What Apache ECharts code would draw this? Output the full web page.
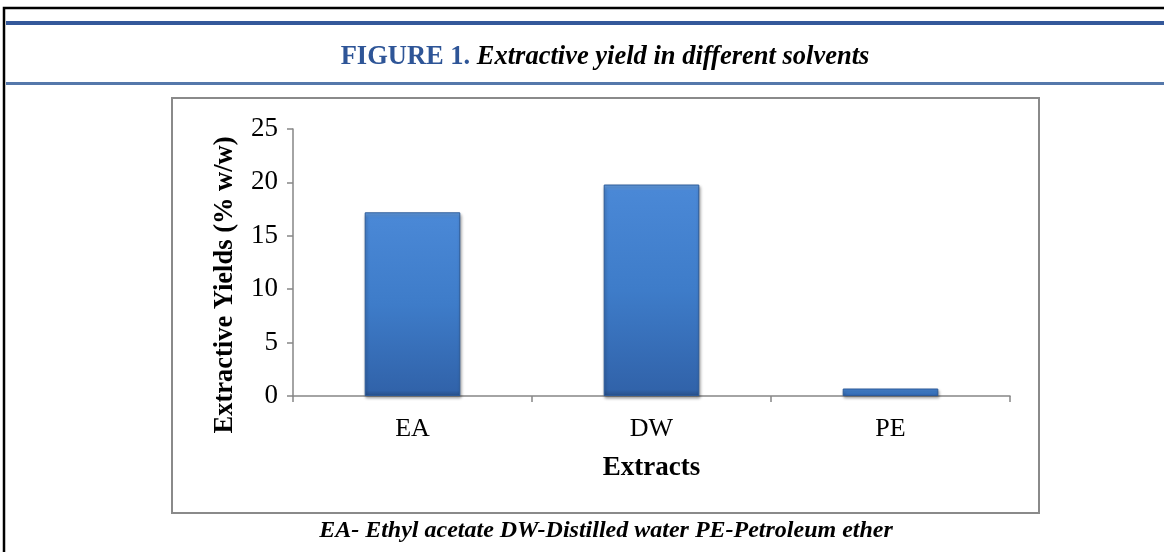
<!DOCTYPE html>
<html>
<head>
<meta charset="utf-8">
<script src="https://cdn.jsdelivr.net/npm/echarts@6/dist/echarts.min.js"></script>
<style>
html,body{margin:0;padding:0;background:#fff;}
#chart{width:1164px;height:552px;}
</style>
</head>
<body>
<div id="chart"></div>
<script>
const categories = ['EA', 'DW', 'PE'];
const yieldValues = [17.2, 19.8, 0.7];
const yTicks = [0, 5, 10, 15, 20, 25];
const titleLead = 'FIGURE 1.';
const titleRest = ' Extractive yield in different solvents';
const yName = 'Extractive Yields (% w/w)';
const xName = 'Extracts';
const footnote = 'EA- Ethyl acetate DW-Distilled water PE-Petroleum ether';

const serif = '"Liberation Serif", "Times New Roman", serif';
const chart = echarts.init(document.getElementById('chart'), null, {renderer: 'canvas'});

const option = {
  animation: false,
  backgroundColor: '#fff',
  graphic: [
    {type: 'rect', shape: {x: 4, y: 8, width: 1164, height: 560}, style: {fill: 'none', stroke: '#000', lineWidth: 2.5}, z: 10},
    {type: 'rect', shape: {x: 6, y: 21, width: 1160, height: 4}, style: {fill: '#34589a'}, z: 10},
    {type: 'rect', shape: {x: 6, y: 82, width: 1160, height: 3}, style: {fill: '#5578ab'}, z: 10},
    {type: 'rect', shape: {x: 172, y: 98, width: 867, height: 415}, style: {fill: 'none', stroke: '#8a8a8a', lineWidth: 2}, z: 1},
    {type: 'text', x: 605, y: 57, z: 10, style: {
      text: '{a|' + titleLead + '}{b|' + titleRest + '}',
      align: 'center', verticalAlign: 'middle',
      rich: {
        a: {fontFamily: serif, fontWeight: 'bold', fontSize: 26.5, fill: '#2e5597'},
        b: {fontFamily: serif, fontWeight: 'bold', fontStyle: 'italic', fontSize: 26.5, fill: '#000'}
      }
    }},
    {type: 'text', x: 225, y: 285, rotation: Math.PI / 2, z: 10, style: {
      text: yName, align: 'center', verticalAlign: 'middle',
      fontFamily: serif, fontWeight: 'bold', fontSize: 26.5, fill: '#000'
    }},
    {type: 'text', x: 606, y: 531, z: 10, style: {
      text: footnote, align: 'center', verticalAlign: 'middle',
      fontFamily: serif, fontWeight: 'bold', fontStyle: 'italic', fontSize: 24, fill: '#000'
    }}
  ],
  grid: {left: 293, right: 154, top: 129, bottom: 156, containLabel: false},
  xAxis: {
    type: 'category',
    data: categories,
    name: xName,
    nameLocation: 'middle',
    nameGap: 59,
    nameTextStyle: {fontFamily: serif, fontWeight: 'bold', fontSize: 27, color: '#000'},
    axisLine: {lineStyle: {color: '#868686', width: 1.5}},
    axisTick: {show: true, length: 6, alignWithLabel: false, lineStyle: {color: '#868686', width: 1.5}},
    axisLabel: {fontFamily: serif, fontSize: 26, color: '#000', margin: 20}
  },
  yAxis: {
    type: 'value',
    min: yTicks[0],
    max: yTicks[yTicks.length - 1],
    interval: yTicks[1] - yTicks[0],
    axisLine: {show: true, lineStyle: {color: '#868686', width: 1.5}},
    axisTick: {show: true, length: 6, lineStyle: {color: '#868686', width: 1.5}},
    splitLine: {show: false},
    axisLabel: {fontFamily: serif, fontSize: 27, color: '#000', margin: 15}
  },
  series: [{
    type: 'bar',
    data: yieldValues,
    barWidth: '40%',
    itemStyle: {
      color: new echarts.graphic.LinearGradient(0, 0, 0, 1, [
        {offset: 0, color: '#6aa3e6'},
        {offset: 0.03, color: '#4a88d6'},
        {offset: 0.5, color: '#3e7cc9'},
        {offset: 0.97, color: '#3163aa'},
        {offset: 1, color: '#284f88'}
      ]),
      borderColor: '#2c5a99',
      borderWidth: 1,
      shadowColor: 'rgba(0,0,0,0.35)',
      shadowBlur: 3,
      shadowOffsetX: 1,
      shadowOffsetY: 2
    }
  }]
};
chart.setOption(option);
</script>
</body>
</html>
